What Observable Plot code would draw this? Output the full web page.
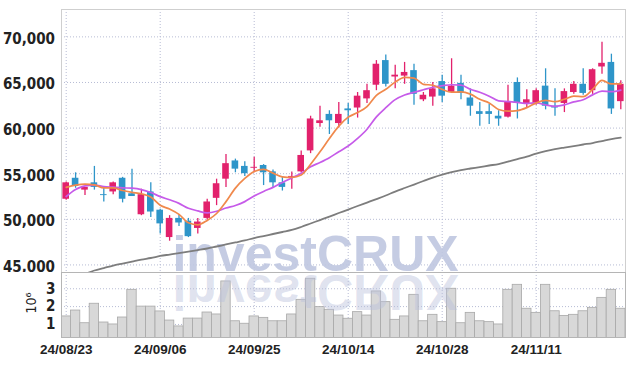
<!DOCTYPE html>
<html><head><meta charset="utf-8">
<script src="https://cdn.jsdelivr.net/npm/d3@7"></script>
<script src="https://cdn.jsdelivr.net/npm/@observablehq/plot@0.6"></script>
<style>
body{margin:0;background:#fff;}
#chart{position:relative;width:634px;height:366px;overflow:hidden;}
#chart svg{position:absolute;left:0;}
</style></head><body><div id="chart"></div>
<script>
const dates = ["24/08/23","24/08/26","24/08/27","24/08/28","24/08/29","24/08/30","24/09/02","24/09/03","24/09/04","24/09/05",
"24/09/06","24/09/09","24/09/10","24/09/11","24/09/12","24/09/13","24/09/19","24/09/20","24/09/23","24/09/24",
"24/09/25","24/09/26","24/09/27","24/09/30","24/10/02","24/10/04","24/10/07","24/10/08","24/10/10","24/10/11",
"24/10/14","24/10/15","24/10/16","24/10/17","24/10/18","24/10/21","24/10/22","24/10/23","24/10/24","24/10/25",
"24/10/28","24/10/29","24/10/30","24/10/31","24/11/01","24/11/04","24/11/05","24/11/06","24/11/07","24/11/08",
"24/11/11","24/11/12","24/11/13","24/11/14","24/11/15","24/11/18","24/11/19","24/11/20","24/11/21","24/11/22"];
const tickDates = ["24/08/23","24/09/06","24/09/25","24/10/14","24/10/28","24/11/11"];
const priceTicks = [45000,50000,55000,60000,65000,70000];
const volTicks = [1,2,3];

const open = [52200,54500,53200,54000,52700,53000,54500,52800,50500,53000, 51000,48000,50100,49800,49000,50100,52300,54400,56400,55800, 55600,55900,55200,54000,54600,55200,57500,60500,61500,60500, 62100,62200,63200,64700,67400,65600,65700,66300,63100,63400, 65100,63900,64900,63300,61800,61800,61300,61200,65000,62700, 62700,64600,62400,62700,63900,64800,64100,66700,67200,62900];
const high = [54100,55100,53500,55800,53500,54100,54600,55500,53300,54000, 51100,50400,50500,50100,50100,52200,54400,57100,56600,56300, 56800,56000,55400,54600,55200,57500,61300,62400,61900,62800, 62700,63900,64800,67400,68000,66900,67200,67000,63900,65000, 65800,67600,65800,64300,62800,62600,61900,64700,65500,64200, 64300,66500,64300,64300,65100,66500,66500,69400,68100,65200];
const low = [52100,53400,52600,53200,51900,52700,51800,52500,50400,50200, 48400,47600,49200,48000,48400,49900,51500,53500,55100,54700, 55100,53700,53500,53100,53300,55100,57200,60100,59300,60000, 60400,61100,62700,64100,64500,64300,64800,62500,62900,62400, 62800,63800,63100,61300,60200,60400,60200,61100,61000,62200, 62500,62000,61300,61700,63700,63600,63700,65900,61500,62000];
const close = [54000,53600,53500,53500,52600,54000,52200,52500,52700,50800, 49500,50100,49600,48100,49700,51900,53900,56100,55500,55000, 55700,55100,54000,53500,54700,57000,61000,60800,60800,61500, 61900,63500,64100,67000,64800,65800,66100,63700,63600,64300, 63500,64600,63800,62400,61500,61500,61000,62900,62700,63100, 64100,62400,62200,64000,64800,63800,66400,67100,62100,64800];
const ma5 = [53500,53740,53850,53780,53440,53440,53160,52960,52800,52440, 51540,51120,50540,49620,49400,49880,50640,51940,53420,54480, 55240,55480,55060,54660,54600,54860,56040,57400,58860,60220, 61200,61700,62360,63600,64260,65040,65560,65480,64800,64700, 64240,63940,63960,63720,63160,62760,62040,61860,61920,62240, 62760,63040,62900,63160,63500,63440,64240,65220,64840,64840];
const ma10 = [52500,53260,53670,53740,53590,53520,53450,53410,53260,52940, 52490,52140,51750,51210,50920,50710,50880,51240,51520,51940, 52560,53060,53500,54040,54540,55050,55760,56230,56760,57410, 58030,58870,59880,61230,62240,63120,63630,63920,64200,64480, 64640,64750,64720,64260,63930,63500,62990,62910,62820,62700, 62760,62540,62380,62540,62870,63100,63640,64060,64000,64170];
const maLong = [null,null,44000,44390,44660,44930,45150,45370,45590,45760, 45980,46140,46300,46470,46630,46800,47020,47240,47460,47680, 47950,48170,48390,48610,48830,49160,49540,49920,50300,50690, 51070,51460,51840,52220,52610,53040,53430,53810,54200,54580, 54910,55180,55400,55570,55730,55900,56060,56330,56610,56880, 57210,57480,57700,57870,58030,58200,58360,58580,58800,58960];
const volume = [1.45,1.78,1.07,2.16,1.11,1.00,1.39,2.94,2.00,2.00, 1.73,1.22,0.89,1.33,1.33,1.67,1.56,3.41,1.18,1.04, 1.45,1.37,1.18,1.18,1.56,2.38,3.56,1.97,1.82,1.50, 1.32,1.69,1.50,2.85,2.25,1.26,1.45,2.66,1.18,1.54, 1.13,3.00,1.07,1.65,1.18,1.13,1.00,2.94,3.22,1.88, 1.65,3.22,1.74,1.48,1.54,1.74,1.93,2.49,2.94,1.88];
const watermark = ["investCRUX"];
const volLabel = ["10\u2076"];

const rows = dates.map((d, i) => ({date: d, open: open[i], high: high[i], low: low[i], close: close[i],
  vol: volume[i], ma5: ma5[i], ma10: ma10[i], maLong: maLong[i]}));
const UP = "#e2216c", DOWN = "#2e95c9";
const col = d => d.close >= d.open ? UP : DOWN;
const grid = {stroke: "#b7bcd4", strokeWidth: 1, strokeDasharray: "1,2"};
const narrow = "'Liberation Sans Narrow','DejaVu Sans Condensed','Liberation Sans',sans-serif";
const wmFont = "'Liberation Sans',Arial,sans-serif";
const xScale = {type: "band", domain: dates, padding: 0, round: false, axis: null};

const priceSvg = Plot.plot({
  width: 634, height: 272, marginLeft: 61, marginRight: 9, marginTop: 9, marginBottom: 0,
  x: xScale,
  y: {domain: [44170, 73000], axis: null},
  marks: [
    Plot.ruleY(priceTicks, grid),
    Plot.ruleX(tickDates, grid),
    Plot.text(watermark, {frameAnchor: "bottom", text: d => d, dx: -28, dy: -2, lineAnchor: "bottom",
      fontFamily: wmFont, fontWeight: "bold", fontSize: 50, fill: "#bfc6e0", fillOpacity: 0.9}),
    Plot.line(rows, {x: "date", y: "maLong", stroke: "#7d7d7d", strokeWidth: 1.8, curve: "monotone-x", clip: true}),
    Plot.ruleX(rows, {x: "date", y1: "low", y2: "high", stroke: col, strokeWidth: 1.3}),
    Plot.barY(rows, {x: "date", y1: "open", y2: "close", fill: col, insetLeft: 1.4, insetRight: 1.4}),
    Plot.line(rows, {x: "date", y: "ma10", stroke: "#c65be9", strokeWidth: 1.7, curve: "monotone-x"}),
    Plot.line(rows, {x: "date", y: "ma5", stroke: "#f0894c", strokeWidth: 1.7, curve: "monotone-x"}),
    Plot.axisY(priceTicks, {tickSize: 0, tickPadding: 6.5, tickFormat: d3.format(","), dy: 2,
      fontFamily: narrow, fontSize: 15, fontWeight: "bold", fill: "#222", label: null}),
    Plot.frame({stroke: "#cfcfcf"})
  ]
});

const volSvg = Plot.plot({
  width: 634, height: 94, marginLeft: 61, marginRight: 9, marginTop: 0, marginBottom: 29,
  x: xScale,
  y: {domain: [0.27, 3.91], axis: null},
  marks: [
    Plot.ruleY(volTicks, grid),
    Plot.ruleX(tickDates, grid),
    Plot.barY(rows, {x: "date", y: "vol", fill: "#d8d8d8", stroke: "#a8a8a8", strokeWidth: 0.8, clip: true}),
    Plot.text(watermark, {frameAnchor: "top", text: d => d, dx: -28, dy: 2, lineAnchor: "bottom",
      fontFamily: wmFont, fontWeight: "bold", fontSize: 50, fill: "#b9c0dc", fillOpacity: 0.45}),
    Plot.axisY(volTicks, {tickSize: 0, tickPadding: 6, fontFamily: narrow, fontSize: 15, fontWeight: "bold", fill: "#222", label: null}),
    Plot.axisX(tickDates, {tickSize: 0, tickPadding: 7, fontFamily: "'Liberation Sans',Arial,sans-serif",
      fontSize: 13.5, fontWeight: "bold", fill: "#222", label: null}),
    Plot.text(volLabel, {frameAnchor: "left", text: d => d, rotate: -90, dx: -30, dy: -2,
      textAnchor: "middle", lineAnchor: "middle", fontFamily: narrow, fontSize: 14, fill: "#222"}),
    Plot.frame({stroke: "#b5b5b5"})
  ]
});

const chart = document.getElementById("chart");
priceSvg.style.top = "0px";
volSvg.style.top = "272px";
chart.appendChild(priceSvg);
chart.appendChild(volSvg);
// mirror the reflected watermark about its baseline
d3.select(volSvg).selectAll("text").filter(function() { return this.textContent === "investCRUX"; })
  .attr("transform", function() { return (this.getAttribute("transform") || "") + " scale(1,-1)"; });
</script></body></html>
